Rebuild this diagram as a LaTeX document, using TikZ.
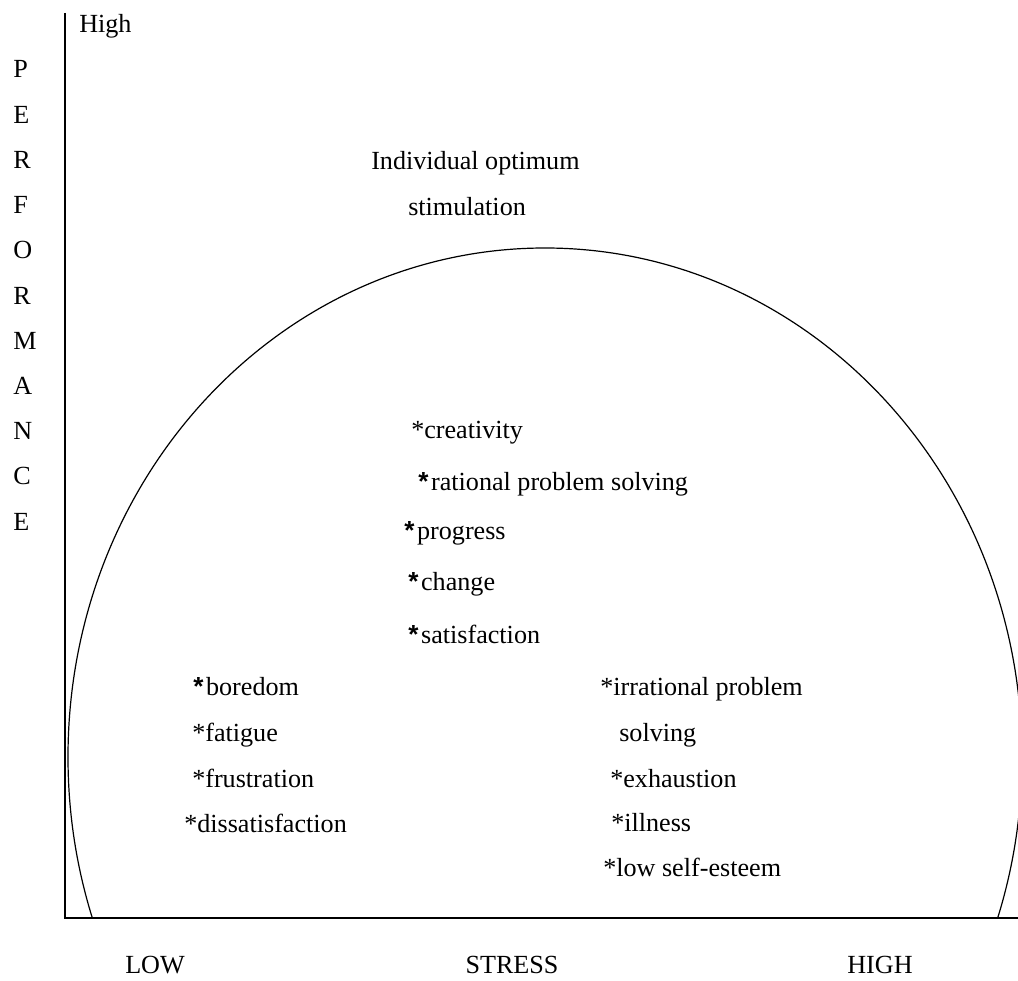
\documentclass[tikz,border=0pt]{standalone}
\usepackage{fontspec}
\setmainfont{Liberation Serif}
\newfontfamily\starsans{Liberation Sans}
\usepackage{tikz}
\newcommand{\bstar}{{\starsans\bfseries *}}
\tikzset{
    stresslabel/.style={font=\fontsize{19.6}{23.5}\selectfont, inner sep=0pt, anchor=base west},
    stressaxis/.style={draw, line width=1.5pt},
    stresscurve/.style={draw, line width=0.9pt}
}

\begin{document}
\begin{tikzpicture}[x=0.75pt, y=-0.75pt]
        \useasboundingbox (0,0) rectangle (1018,981);
        \coordinate (ytop) at (65,13);
        \coordinate (origin) at (65,918);
        \coordinate (xend) at (1018,918);
        \begin{scope}
            \clip (0,0) rectangle (1018,918);
            \draw[stresscurve] (545,757) ellipse [x radius=477, y radius=509];
        \end{scope}
        \draw[stressaxis] (ytop) -- (origin) -- (xend);

        \node[stresslabel] (high) at (79,33) {High};
        \foreach \ch [count=\i from 0] in {P,E,R,F,O,R,M,A,N,C,E}
            \node[stresslabel] (perf\i) at (13,78+45.2*\i) {\ch};

        \node[stresslabel] (optimum) at (371,170) {Individual optimum};
        \node[stresslabel] (stimulation) at (408,215) {stimulation};

        \node[stresslabel] (creativity) at (411,438) {*creativity};
        \node[stresslabel] (rational) at (418,490) {\bstar\kern2pt rational problem solving};
        \node[stresslabel] (progress) at (404,539) {\bstar\kern2pt progress};
        \node[stresslabel] (change) at (408,590) {\bstar\kern2pt change};
        \node[stresslabel] (satisfaction) at (408,643) {\bstar\kern2pt satisfaction};

        \node[stresslabel] (boredom) at (193,695) {\bstar\kern2pt boredom};
        \node[stresslabel] (fatigue) at (192,741) {*fatigue};
        \node[stresslabel] (frustration) at (192,787) {*frustration};
        \node[stresslabel] (dissatisfaction) at (184,832) {*dissatisfaction};

        \node[stresslabel] (irrational) at (600,695) {*irrational problem};
        \node[stresslabel] (solving) at (619,741) {solving};
        \node[stresslabel] (exhaustion) at (610,787) {*exhaustion};
        \node[stresslabel] (illness) at (611,831) {*illness};
        \node[stresslabel] (selfesteem) at (603,876) {*low self-esteem};

        \node[stresslabel, anchor=base] (low) at (155,973) {LOW};
        \node[stresslabel, anchor=base] (stress) at (512,973) {STRESS};
        \node[stresslabel, anchor=base] (highx) at (880,973) {HIGH};
    \end{tikzpicture}
\end{document}
